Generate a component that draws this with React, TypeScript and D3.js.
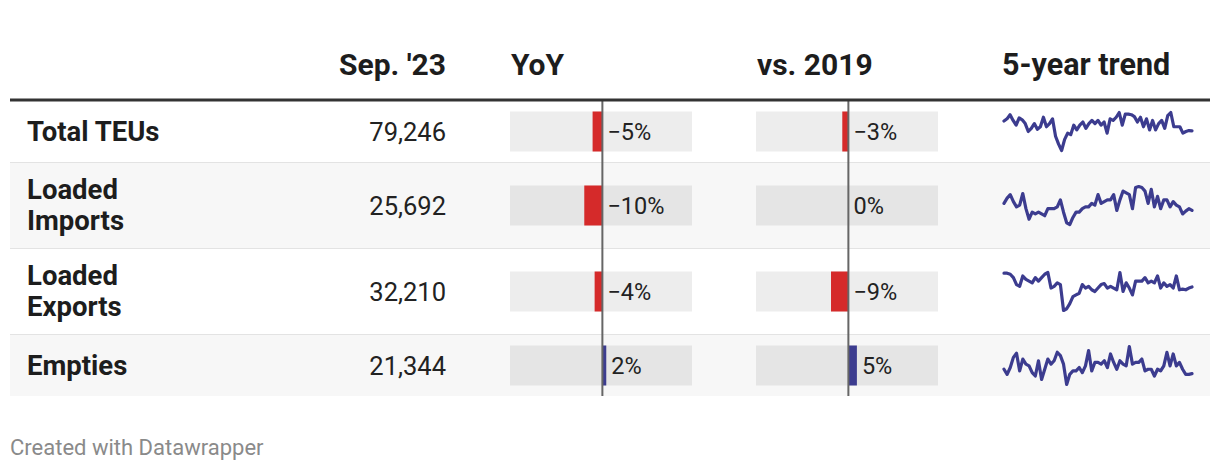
import React from "react";
import * as d3 from "d3";

const categories = ["Total TEUs", "Loaded Imports", "Loaded Exports", "Empties"];
const labelLines = [["Total TEUs"], ["Loaded", "Imports"], ["Loaded", "Exports"], ["Empties"]];
const sep23 = [79246, 25692, 32210, 21344];
const yoy = [-5.3, -9.8, -4.2, 2.1];
const vs2019 = [-3.3, 0.1, -9.4, 4.6];
const headers = ["Sep. '23", "YoY", "vs. 2019", "5-year trend"];

// 5-year monthly trend (relative index, read from the sparklines)
const trendTotal = [98, 105, 118, 100, 85, 108, 102, 90, 65, 75, 90, 72, 80, 110, 80, 90, 105, 50, 25, 5, 40, 60, 55, 85, 70, 85, 95, 75, 90, 100, 90, 100, 85, 95, 60, 105, 100, 110, 125, 85, 120, 120, 118, 112, 95, 110, 80, 105, 70, 100, 70, 90, 100, 75, 115, 125, 80, 80, 80, 60, 65, 68, 67];
const trendImports = [90, 105, 115, 95, 80, 85, 118, 75, 45, 65, 60, 65, 60, 55, 75, 75, 75, 80, 100, 65, 35, 30, 50, 65, 65, 75, 80, 80, 90, 85, 115, 90, 95, 100, 100, 115, 70, 100, 125, 120, 115, 75, 135, 138, 135, 125, 90, 130, 80, 110, 75, 100, 100, 80, 95, 85, 80, 60, 68, 75, 70];
const trendExports = [118, 118, 115, 105, 85, 80, 110, 100, 95, 90, 105, 95, 105, 115, 120, 75, 80, 90, 85, 10, 15, 30, 50, 55, 60, 85, 75, 80, 70, 65, 75, 85, 88, 75, 80, 75, 70, 120, 65, 90, 75, 55, 95, 95, 95, 105, 90, 95, 90, 110, 75, 90, 80, 85, 75, 110, 70, 72, 70, 75, 78];
const trendEmpties = [45, 30, 50, 80, 92, 40, 75, 60, 55, 35, 25, 70, 15, 45, 75, 60, 70, 95, 85, 60, 0, 30, 40, 40, 50, 35, 55, 100, 40, 65, 65, 60, 70, 50, 90, 65, 45, 70, 60, 55, 112, 60, 65, 65, 75, 40, 45, 45, 25, 45, 40, 55, 95, 55, 90, 55, 65, 45, 30, 30, 32];
const trends = [trendTotal, trendImports, trendExports, trendEmpties];

const W = 1220;
const H = 472;
const FONT = "Roboto, 'Noto Sans', sans-serif";
const RED = "#d52a2a";
const BLUE = "#3c3c8f";

const rowTops = [101, 163, 249, 335];
const rowBottoms = [162, 248, 334, 396];

const fmtNum = d3.format(",");
const fmtPct = (v: number) => {
  const r = Math.round(v);
  return (r < 0 ? "\u2212" + Math.abs(r) : String(r)) + "%";
};

export default function App() {
  const xYoy = d3.scaleLinear().domain([-50, 48.5]).range([510, 692]);
  const x19 = d3.scaleLinear().domain([-50, 48.5]).range([756, 938]);
  const barCols = [
    { scale: xYoy, values: yoy },
    { scale: x19, values: vs2019 },
  ];

  return (
    <svg width={W} height={H} style={{ display: "block", position: "absolute", left: 0, top: 0 }} fontFamily={FONT}>
      <rect x={0} y={0} width={W} height={H} fill="#ffffff" />
      {/* headers */}
      <text x={446} y={75} textAnchor="end" fontSize={30} fontWeight={700} fill="#1d1d1d">{headers[0]}</text>
      <text x={511} y={75} fontSize={30} fontWeight={700} fill="#1d1d1d">{headers[1]}</text>
      <text x={757} y={75} fontSize={30} fontWeight={700} fill="#1d1d1d">{headers[2]}</text>
      <text x={1002} y={75} fontSize={30.5} fontWeight={700} fill="#1d1d1d">{headers[3]}</text>

      {/* rows */}
      {categories.map((c, i) => {
        const top = rowTops[i];
        const bot = rowBottoms[i];
        const cy = (top + bot) / 2;
        const lines = labelLines[i];
        const lh = 31.5;
        const trend = trends[i];
        const sx = d3.scaleLinear().domain([0, trend.length - 1]).range([1004, 1192]);
        const sy = d3.scaleLinear().domain(d3.extent(trend) as [number, number]).range([cy + 19, cy - 19]);
        const line = d3.line<number>().x((_, k) => sx(k)).y((d) => sy(d));
        return (
          <g key={c}>
            <rect x={10} y={top} width={1200} height={bot - top} fill={i % 2 === 1 ? "#f7f7f7" : "#ffffff"} />
            {i < categories.length - 1 && (
              <rect x={10} y={bot} width={1200} height={1.5} fill="#e3e3e3" />
            )}
            {lines.map((t, k) => (
              <text key={k} x={27} y={cy + 9 + (k - (lines.length - 1) / 2) * lh} fontSize={27.5} fontWeight={700} fill="#1d1d1d">{t}</text>
            ))}
            <text x={446} y={cy + 9} textAnchor="end" fontSize={25.5} fill="#222">{fmtNum(sep23[i])}</text>
            {barCols.map((col, j) => {
              const v = col.values[i];
              const s = col.scale;
              const z = s(0);
              const x0 = Math.min(z, s(v));
              const w = Math.abs(s(v) - z);
              const lx = Math.max(z, s(v)) + 5;
              return (
                <g key={j}>
                  <rect x={s.range()[0]} y={cy - 20} width={s.range()[1] - s.range()[0]} height={40} fill="#000" fillOpacity={0.07} />
                  <rect x={x0} y={cy - 20} width={w} height={40} fill={v < 0 ? RED : BLUE} />
                  <text x={lx} y={cy + 8} fontSize={23.5} fill="#222">{fmtPct(v)}</text>
                </g>
              );
            })}
            <path d={line(trend) || ""} fill="none" stroke={BLUE} strokeWidth={3.2} strokeLinejoin="round" strokeLinecap="round" />
          </g>
        );
      })}

      {/* zero lines */}
      {barCols.map((col, j) => (
        <line key={j} x1={col.scale(0)} x2={col.scale(0)} y1={100} y2={396} stroke="#666" strokeWidth={2} />
      ))}
      {/* header rule */}
      <rect x={10} y={98.5} width={1200} height={3} fill="#333" />

      <text x={10} y={455} fontSize={22} fill="#8a8a8a">Created with Datawrapper</text>
    </svg>
  );
}
